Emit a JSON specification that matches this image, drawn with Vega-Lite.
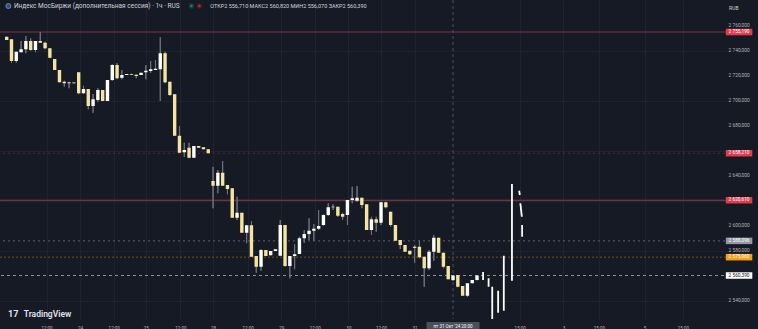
{
  "$schema": "https://vega.github.io/schema/vega-lite/v6.json",
  "width": 730,
  "height": 319,
  "autosize": {"type": "none"},
  "padding": {"left": 0, "top": 0, "right": 28, "bottom": 10},
  "background": "#161a25",
  "config": {"view": {"stroke": null}, "font": "Roboto"},
  "datasets": {
    "candles": [
      {"i":0,"o":2751.4,"h":2751.4,"l":2748.8,"c":2748.8},
      {"i":1,"o":2749.4,"h":2749.4,"l":2730.6,"c":2732.0},
      {"i":2,"o":2732.0,"h":2739.4,"l":2730.6,"c":2739.4},
      {"i":3,"o":2739.0,"h":2748.0,"l":2739.0,"c":2741.4},
      {"i":4,"o":2741.4,"h":2752.0,"l":2738.2,"c":2748.0},
      {"i":5,"o":2748.0,"h":2750.2,"l":2740.2,"c":2740.8},
      {"i":6,"o":2740.8,"h":2748.0,"l":2739.0,"c":2748.0},
      {"i":7,"o":2748.0,"h":2755.19,"l":2746.6,"c":2746.6},
      {"i":8,"o":2746.6,"h":2747.4,"l":2741.4,"c":2742.2},
      {"i":9,"o":2742.2,"h":2742.2,"l":2734.2,"c":2734.6},
      {"i":10,"o":2733.6,"h":2733.6,"l":2724.8,"c":2724.8},
      {"i":11,"o":2724.8,"h":2724.8,"l":2715.0,"c":2715.0},
      {"i":12,"o":2715.4,"h":2716.2,"l":2711.4,"c":2714.2},
      {"i":13,"o":2714.2,"h":2715.4,"l":2710.2,"c":2714.8},
      {"i":14,"o":2714.8,"h":2715.0,"l":2714.0,"c":2714.2},
      {"i":15,"o":2723.0,"h":2723.0,"l":2705.4,"c":2706.2},
      {"i":16,"o":2706.2,"h":2712.2,"l":2705.6,"c":2709.6},
      {"i":17,"o":2709.6,"h":2709.6,"l":2693.4,"c":2696.0},
      {"i":18,"o":2696.0,"h":2705.6,"l":2690.6,"c":2701.4},
      {"i":19,"o":2700.8,"h":2710.2,"l":2699.4,"c":2708.8},
      {"i":20,"o":2708.8,"h":2708.8,"l":2700.0,"c":2700.0},
      {"i":21,"o":2700.0,"h":2716.8,"l":2700.0,"c":2716.8},
      {"i":22,"o":2716.8,"h":2729.4,"l":2716.0,"c":2728.8},
      {"i":23,"o":2728.8,"h":2730.2,"l":2717.4,"c":2718.2},
      {"i":24,"o":2718.6,"h":2724.8,"l":2717.4,"c":2720.8},
      {"i":25,"o":2720.8,"h":2721.6,"l":2720.8,"c":2721.6},
      {"i":26,"o":2721.6,"h":2721.8,"l":2720.8,"c":2721.0},
      {"i":27,"o":2721.0,"h":2721.2,"l":2718.2,"c":2720.0},
      {"i":28,"o":2720.8,"h":2722.6,"l":2720.8,"c":2722.6},
      {"i":29,"o":2723.0,"h":2728.8,"l":2717.4,"c":2724.2},
      {"i":30,"o":2724.0,"h":2732.0,"l":2722.6,"c":2725.4},
      {"i":31,"o":2724.8,"h":2732.8,"l":2724.8,"c":2725.8},
      {"i":32,"o":2725.4,"h":2751.0,"l":2700.0,"c":2738.2},
      {"i":33,"o":2738.2,"h":2739.4,"l":2714.2,"c":2715.0},
      {"i":34,"o":2715.4,"h":2715.4,"l":2704.0,"c":2704.8},
      {"i":35,"o":2705.4,"h":2705.4,"l":2672.2,"c":2672.2},
      {"i":36,"o":2672.2,"h":2680.0,"l":2658.6,"c":2658.6},
      {"i":37,"o":2659.0,"h":2666.6,"l":2655.4,"c":2660.8},
      {"i":38,"o":2662.6,"h":2666.6,"l":2654.2,"c":2654.6},
      {"i":39,"o":2654.6,"h":2664.0,"l":2654.6,"c":2664.0},
      {"i":40,"o":2664.0,"h":2664.0,"l":2662.6,"c":2662.6},
      {"i":41,"o":2663.0,"h":2663.0,"l":2661.4,"c":2661.4},
      {"i":42,"o":2661.4,"h":2661.4,"l":2658.2,"c":2658.2},
      {"i":43,"o":2636.0,"h":2647.4,"l":2614.2,"c":2632.2},
      {"i":44,"o":2632.2,"h":2644.8,"l":2626.2,"c":2642.6},
      {"i":45,"o":2642.6,"h":2652.0,"l":2632.2,"c":2632.2},
      {"i":46,"o":2632.8,"h":2632.8,"l":2625.4,"c":2629.6},
      {"i":47,"o":2630.2,"h":2630.2,"l":2606.6,"c":2606.6},
      {"i":48,"o":2606.6,"h":2623.4,"l":2604.8,"c":2610.6},
      {"i":49,"o":2610.6,"h":2610.6,"l":2594.6,"c":2594.6},
      {"i":50,"o":2594.6,"h":2600.6,"l":2586.2,"c":2600.6},
      {"i":51,"o":2600.6,"h":2604.0,"l":2575.4,"c":2575.4},
      {"i":52,"o":2576.0,"h":2576.0,"l":2562.6,"c":2567.4},
      {"i":53,"o":2567.4,"h":2581.4,"l":2564.2,"c":2580.8},
      {"i":54,"o":2580.8,"h":2580.8,"l":2576.0,"c":2576.0},
      {"i":55,"o":2576.6,"h":2580.0,"l":2576.6,"c":2580.0},
      {"i":56,"o":2580.0,"h":2581.4,"l":2580.0,"c":2581.4},
      {"i":57,"o":2576.2,"h":2604.8,"l":2576.2,"c":2600.8},
      {"i":58,"o":2600.8,"h":2600.8,"l":2567.4,"c":2568.0},
      {"i":59,"o":2568.0,"h":2576.0,"l":2558.2,"c":2576.0},
      {"i":60,"o":2576.0,"h":2585.4,"l":2565.4,"c":2577.4},
      {"i":61,"o":2577.6,"h":2591.4,"l":2577.6,"c":2590.2},
      {"i":62,"o":2590.2,"h":2596.8,"l":2586.6,"c":2593.6},
      {"i":63,"o":2593.6,"h":2606.2,"l":2588.8,"c":2596.2},
      {"i":64,"o":2596.2,"h":2601.6,"l":2588.2,"c":2597.8},
      {"i":65,"o":2597.8,"h":2612.8,"l":2596.8,"c":2600.0},
      {"i":66,"o":2600.8,"h":2609.4,"l":2600.0,"c":2608.8},
      {"i":67,"o":2608.8,"h":2618.2,"l":2608.0,"c":2615.0},
      {"i":68,"o":2615.0,"h":2617.4,"l":2612.8,"c":2615.4},
      {"i":69,"o":2615.4,"h":2615.4,"l":2607.4,"c":2608.2},
      {"i":70,"o":2609.6,"h":2610.6,"l":2604.8,"c":2607.4},
      {"i":71,"o":2608.8,"h":2620.8,"l":2600.8,"c":2620.8},
      {"i":72,"o":2620.8,"h":2631.4,"l":2618.2,"c":2622.2},
      {"i":73,"o":2620.2,"h":2632.0,"l":2619.4,"c":2622.6},
      {"i":74,"o":2622.6,"h":2622.6,"l":2614.2,"c":2616.8},
      {"i":75,"o":2617.4,"h":2617.4,"l":2596.8,"c":2596.8},
      {"i":76,"o":2596.8,"h":2607.4,"l":2592.8,"c":2605.4},
      {"i":77,"o":2605.4,"h":2607.4,"l":2595.4,"c":2602.6},
      {"i":78,"o":2602.6,"h":2619.4,"l":2600.8,"c":2619.0},
      {"i":79,"o":2619.0,"h":2619.4,"l":2614.2,"c":2615.0},
      {"i":80,"o":2611.4,"h":2611.4,"l":2599.4,"c":2600.8},
      {"i":81,"o":2600.8,"h":2600.8,"l":2588.2,"c":2588.2},
      {"i":82,"o":2588.8,"h":2588.8,"l":2581.6,"c":2584.8},
      {"i":83,"o":2584.8,"h":2584.8,"l":2579.4,"c":2579.4},
      {"i":84,"o":2580.2,"h":2580.2,"l":2576.8,"c":2577.4},
      {"i":85,"o":2582.6,"h":2584.8,"l":2570.6,"c":2583.4},
      {"i":86,"o":2583.4,"h":2588.2,"l":2574.2,"c":2575.0},
      {"i":87,"o":2575.4,"h":2575.4,"l":2551.4,"c":2566.2},
      {"i":88,"o":2566.2,"h":2580.8,"l":2564.8,"c":2579.4},
      {"i":89,"o":2579.4,"h":2592.8,"l":2572.2,"c":2590.6},
      {"i":90,"o":2590.6,"h":2590.6,"l":2578.6,"c":2578.6},
      {"i":91,"o":2578.6,"h":2578.6,"l":2566.2,"c":2567.4},
      {"i":92,"o":2568.0,"h":2568.0,"l":2557.4,"c":2557.4},
      {"i":93,"o":2556.71,"h":2560.82,"l":2556.07,"c":2560.39},
      {"i":94,"o":2560.8,"h":2560.8,"l":2551.0,"c":2551.4},
      {"i":95,"o":2552.0,"h":2552.0,"l":2544.2,"c":2544.2},
      {"i":96,"o":2544.2,"h":2554.2,"l":2543.4,"c":2554.2},
      {"i":97,"o":2554.2,"h":2556.8,"l":2554.2,"c":2556.8},
      {"i":98,"o":2556.8,"h":2560.5,"l":2556.5,"c":2560.39}
    ],
    "drawing": [
      {"t":99.26,"t2":99.26,"hi":2563.2,"lo":2556.8},
      {"t":100.41,"t2":100.41,"hi":2558.2,"lo":2551.4},
      {"t":101.17,"t2":101.17,"hi":2551.4,"lo":2525.4},
      {"t":102.4,"t2":102.4,"hi":2548.2,"lo":2530.6},
      {"t":103.58,"t2":103.58,"hi":2576.2,"lo":2532.2},
      {"t":105.28,"t2":105.28,"hi":2633.6,"lo":2556.2},
      {"t":106.78,"t2":106.92,"hi":2628.2,"lo":2624.8},
      {"t":107.03,"t2":107.34,"hi":2618.2,"lo":2607.4},
      {"t":107.4,"t2":107.4,"hi":2600.8,"lo":2591.4}
    ],
    "levels": [
      {"price":2755.19,"kind":"high"},
      {"price":2658.21,"kind":"lvl1"},
      {"price":2620.61,"kind":"lvl2"},
      {"price":2588.096,"kind":"cross"},
      {"price":2575.06,"kind":"post"},
      {"price":2560.39,"kind":"last"}
    ],
    "yticks": [
      {"v":2540},{"v":2560},{"v":2580},{"v":2600},{"v":2640},{"v":2680},{"v":2700},{"v":2720},{"v":2740},{"v":2760}
    ]
  },
  "layer": [
    {
      "data": {"name": "candles"},
      "mark": {"type": "rule", "color": "#6f727c", "strokeWidth": 1},
      "encoding": {
        "x": {"field": "i", "type": "quantitative", "title": null,
          "scale": {"domain": [-0.35, 149.67], "nice": false, "zero": false},
          "axis": {
            "values": [8.3, 15.3, 22.3, 29, 36.2, 43, 50.2, 57.2, 64.2, 71.2, 78, 85, 106.9, 116, 123.4, 132.9, 140.9],
            "labelExpr": "['12:00','24','12:00','25','12:00','28','12:00','29','12:00','30','12:00','31','15:00','3','15:00','5','15:00'][indexof([8.3,15.3,22.3,29,36.2,43,50.2,57.2,64.2,71.2,78,85,106.9,116,123.4,132.9,140.9], datum.value)]",
            "grid": true, "gridColor": "#1f2330", "domain": false, "ticks": false, "tickSize": 0,
            "labelPadding": 6, "labelFontSize": 4.5, "labelColor": "#b2b5be", "labelFlush": false, "labelOverlap": false
          }
        },
        "y": {"field": "l", "type": "quantitative", "title": null,
          "scale": {"domain": [2525.6, 2780.8], "nice": false, "zero": false},
          "axis": {
            "orient": "right",
            "values": [2540, 2560, 2580, 2600, 2620, 2640, 2660, 2680, 2700, 2720, 2740, 2760],
            "labels": false,
            "grid": true, "gridColor": "#1f2330", "domain": false, "ticks": false, "tickSize": 0
          }
        },
        "y2": {"field": "h"}
      }
    },
    {
      "data": {"name": "levels"},
      "mark": {"type": "rule", "strokeWidth": 1},
      "encoding": {
        "y": {"field": "price", "type": "quantitative", "title": null},
        "stroke": {"field": "kind", "type": "nominal", "legend": null,
          "scale": {"domain": ["high","lvl1","lvl2","cross","post","last"],
                    "range": ["#7e3444","#5a2835","#9a3b4c","#5d606b","#6b5424","#8d9099"]}},
        "strokeDash": {"field": "kind", "type": "nominal", "legend": null,
          "scale": {"domain": ["high","lvl1","lvl2","cross","post","last"],
                    "range": [[1,0],[2,3],[1,0],[2,3],[2,2],[3,3]]}}
      }
    },
    {
      "data": {"values": [{}]},
      "mark": {"type": "rule", "color": "#4e515c", "strokeDash": [3, 3], "strokeWidth": 1},
      "encoding": {"x": {"datum": 93, "title": null}}
    },
    {
      "data": {"name": "candles"},
      "mark": {"type": "rule", "color": "#6f727c", "strokeWidth": 1},
      "encoding": {
        "x": {"field": "i", "type": "quantitative", "title": null},
        "y": {"field": "l", "type": "quantitative", "title": null},
        "y2": {"field": "h"}
      }
    },
    {
      "data": {"name": "candles"},
      "mark": {"type": "bar", "size": 3.4},
      "encoding": {
        "x": {"field": "i", "type": "quantitative", "title": null},
        "y": {"field": "o", "type": "quantitative", "title": null},
        "y2": {"field": "c"},
        "color": {"condition": {"test": "datum.c >= datum.o", "value": "#ffffff"}, "value": "#f3e49f"}
      }
    },
    {
      "data": {"name": "drawing"},
      "mark": {"type": "rule", "color": "#ffffff", "strokeWidth": 1.8, "clip": true},
      "encoding": {
        "x": {"field": "t", "type": "quantitative", "title": null},
        "x2": {"field": "t2"},
        "y": {"field": "hi", "type": "quantitative", "title": null},
        "y2": {"field": "lo"}
      }
    },
    {
      "data": {"name": "yticks"},
      "transform": [{"calculate": "replace(replace(format(datum.v, ',.3f'), ',', ' '), '.', ',')", "as": "lab"}],
      "mark": {"type": "text", "fontSize": 4.8, "align": "right", "baseline": "middle", "color": "#b2b5be", "clip": false},
      "encoding": {
        "x": {"datum": 154.8},
        "y": {"field": "v", "type": "quantitative", "title": null},
        "text": {"field": "lab"}
      }
    },
    {
      "data": {"name": "levels"},
      "mark": {"type": "tick", "orient": "horizontal", "size": 26.5, "thickness": 6.5, "opacity": 1, "clip": false},
      "encoding": {
        "x": {"datum": 152.6},
        "y": {"field": "price", "type": "quantitative", "title": null},
        "fill": {"field": "kind", "type": "nominal", "legend": null,
          "scale": {"domain": ["high","lvl1","lvl2","cross","post","last"],
                    "range": ["#e5394c","#e5394c","#e5394c","#9598a1","#f5a018","#ffffff"]}}
      }
    },
    {
      "data": {"name": "levels"},
      "transform": [{"calculate": "replace(replace(format(datum.price, ',.3f'), ',', ' '), '.', ',')", "as": "lab"}],
      "mark": {"type": "text", "fontSize": 4.8, "align": "center", "baseline": "middle", "clip": false},
      "encoding": {
        "x": {"datum": 152.6},
        "y": {"field": "price", "type": "quantitative", "title": null},
        "text": {"field": "lab"},
        "color": {"condition": {"test": "datum.kind === 'last'", "value": "#131722"}, "value": "#ffffff"}
      }
    },
    {
      "data": {"values": [{}]},
      "mark": {"type": "point", "filled": true, "size": 26, "color": "#3d62c4", "stroke": "#e8e8e8", "strokeWidth": 0.6},
      "encoding": {"x": {"datum": 0.35}, "y": {"datum": 2776.0}}
    },
    {
      "data": {"values": [{}]},
      "mark": {"type": "text", "fontSize": 6.5, "align": "left", "baseline": "middle", "color": "#d1d4dc"},
      "encoding": {"x": {"datum": 1.5}, "y": {"datum": 2776.0}, "text": {"value": "Индекс МосБиржи (дополнительная сессия) · 1ч · RUS"}}
    },
    {
      "data": {"values": [{}]},
      "mark": {"type": "point", "filled": true, "size": 16, "color": "#22ab94", "stroke": "#124a42", "strokeWidth": 1.5},
      "encoding": {"x": {"datum": 38.49}, "y": {"datum": 2776.0}}
    },
    {
      "data": {"values": [{}]},
      "mark": {"type": "point", "filled": true, "size": 16, "color": "#f23645", "stroke": "#5a1f2a", "strokeWidth": 1.5},
      "encoding": {"x": {"datum": 40.14}, "y": {"datum": 2776.0}}
    },
    {
      "data": {"values": [{}]},
      "mark": {"type": "text", "fontSize": 5.5, "align": "left", "baseline": "middle", "color": "#d1d4dc"},
      "encoding": {"x": {"datum": 42.4}, "y": {"datum": 2776.0}, "text": {"value": "ОТКР2 556,710  МАКС2 560,820  МИН2 556,070  ЗАКР2 560,390"}}
    },
    {
      "data": {"values": [{}]},
      "mark": {"type": "text", "fontSize": 5, "align": "center", "baseline": "middle", "color": "#d1d4dc", "clip": false},
      "encoding": {"x": {"datum": 151.5}, "y": {"datum": 2774.4}, "text": {"value": "RUB"}}
    },
    {
      "data": {"values": [{}]},
      "mark": {"type": "text", "fontSize": 9, "fontWeight": "bold", "align": "left", "baseline": "middle", "color": "#e0e3eb"},
      "encoding": {"x": {"datum": 0.27}, "y": {"datum": 2529.6}, "text": {"value": "17"}}
    },
    {
      "data": {"values": [{}]},
      "mark": {"type": "text", "fontSize": 8.5, "fontWeight": 600, "align": "left", "baseline": "middle", "color": "#e0e3eb"},
      "encoding": {"x": {"datum": 3.55}, "y": {"datum": 2529.6}, "text": {"value": "TradingView"}}
    },
    {
      "data": {"values": [{}]},
      "mark": {"type": "tick", "orient": "horizontal", "size": 53, "thickness": 10, "opacity": 1, "color": "#4b4f5b", "clip": false},
      "encoding": {"x": {"datum": 93.0}, "y": {"datum": 2519.2}}
    },
    {
      "data": {"values": [{}]},
      "mark": {"type": "text", "fontSize": 4.5, "align": "center", "baseline": "middle", "color": "#ffffff", "clip": false},
      "encoding": {"x": {"datum": 93.0}, "y": {"datum": 2519.2}, "text": {"value": "пт 31 Окт '24   20:00"}}
    }
  ]
}
